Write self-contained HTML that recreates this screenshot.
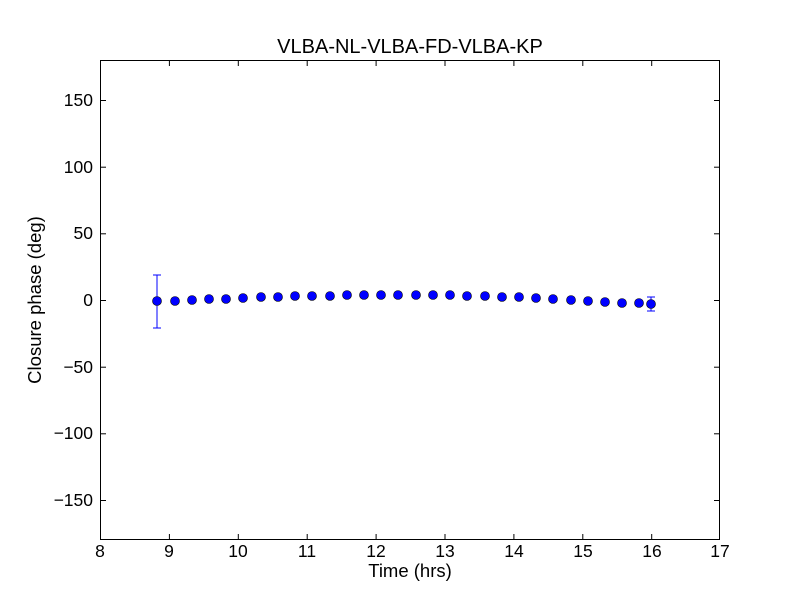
<!DOCTYPE html>
<html><head><style>
body{margin:0;background:#fff}
svg{display:block}
text{font-family:"Liberation Sans","DejaVu Sans",sans-serif;fill:#000}
</style></head><body>
<svg width="800" height="600" viewBox="0 0 800 600">
<rect width="800" height="600" fill="#fff"/>
<g stroke="#000" stroke-width="1">
<line x1="100.5" y1="540" x2="100.5" y2="534"/><line x1="100.5" y1="60" x2="100.5" y2="66"/>
<line x1="169.4" y1="540" x2="169.4" y2="534"/><line x1="169.4" y1="60" x2="169.4" y2="66"/>
<line x1="238.3" y1="540" x2="238.3" y2="534"/><line x1="238.3" y1="60" x2="238.3" y2="66"/>
<line x1="307.2" y1="540" x2="307.2" y2="534"/><line x1="307.2" y1="60" x2="307.2" y2="66"/>
<line x1="376.1" y1="540" x2="376.1" y2="534"/><line x1="376.1" y1="60" x2="376.1" y2="66"/>
<line x1="445" y1="540" x2="445" y2="534"/><line x1="445" y1="60" x2="445" y2="66"/>
<line x1="513.9" y1="540" x2="513.9" y2="534"/><line x1="513.9" y1="60" x2="513.9" y2="66"/>
<line x1="582.8" y1="540" x2="582.8" y2="534"/><line x1="582.8" y1="60" x2="582.8" y2="66"/>
<line x1="651.7" y1="540" x2="651.7" y2="534"/><line x1="651.7" y1="60" x2="651.7" y2="66"/>
<line x1="100" y1="100.5" x2="106" y2="100.5"/><line x1="720" y1="100.5" x2="714" y2="100.5"/>
<line x1="100" y1="167.2" x2="106" y2="167.2"/><line x1="720" y1="167.2" x2="714" y2="167.2"/>
<line x1="100" y1="233.8" x2="106" y2="233.8"/><line x1="720" y1="233.8" x2="714" y2="233.8"/>
<line x1="100" y1="300.5" x2="106" y2="300.5"/><line x1="720" y1="300.5" x2="714" y2="300.5"/>
<line x1="100" y1="367.2" x2="106" y2="367.2"/><line x1="720" y1="367.2" x2="714" y2="367.2"/>
<line x1="100" y1="433.8" x2="106" y2="433.8"/><line x1="720" y1="433.8" x2="714" y2="433.8"/>
<line x1="100" y1="500.5" x2="106" y2="500.5"/><line x1="720" y1="500.5" x2="714" y2="500.5"/>
</g>
<rect x="100.5" y="60.5" width="619" height="479" fill="none" stroke="#000"/>
<g stroke="#0000ff" stroke-width="1">
<line x1="157" y1="275" x2="157" y2="328"/><line x1="153" y1="275" x2="161" y2="275"/><line x1="153" y1="328" x2="161" y2="328"/>
<line x1="651" y1="297" x2="651" y2="311"/><line x1="647" y1="297" x2="655" y2="297"/><line x1="647" y1="311" x2="655" y2="311"/>
</g>
<g fill="#0000ff" stroke="#000" stroke-width="0.6">
<circle cx="157" cy="301" r="4.5"/><circle cx="175" cy="301" r="4.5"/><circle cx="192" cy="300" r="4.5"/>
<circle cx="209" cy="299" r="4.5"/><circle cx="226" cy="299" r="4.5"/><circle cx="243" cy="298" r="4.5"/>
<circle cx="261" cy="297" r="4.5"/><circle cx="278" cy="297" r="4.5"/><circle cx="295" cy="296" r="4.5"/>
<circle cx="312" cy="296" r="4.5"/><circle cx="330" cy="296" r="4.5"/><circle cx="347" cy="295" r="4.5"/>
<circle cx="364" cy="295" r="4.5"/><circle cx="381" cy="295" r="4.5"/><circle cx="398" cy="295" r="4.5"/>
<circle cx="416" cy="295" r="4.5"/><circle cx="433" cy="295" r="4.5"/><circle cx="450" cy="295" r="4.5"/>
<circle cx="467" cy="296" r="4.5"/><circle cx="485" cy="296" r="4.5"/><circle cx="502" cy="297" r="4.5"/>
<circle cx="519" cy="297" r="4.5"/><circle cx="536" cy="298" r="4.5"/><circle cx="553" cy="299" r="4.5"/>
<circle cx="571" cy="300" r="4.5"/><circle cx="588" cy="301" r="4.5"/><circle cx="605" cy="302" r="4.5"/>
<circle cx="622" cy="303" r="4.5"/><circle cx="639" cy="303" r="4.5"/><circle cx="651" cy="304" r="4.5"/>
</g>
<g font-size="17.5" text-anchor="middle">
<text x="100" y="557">8</text><text x="169" y="557">9</text><text x="238" y="557">10</text>
<text x="307" y="557">11</text><text x="376" y="557">12</text><text x="445" y="557">13</text>
<text x="514" y="557">14</text><text x="583" y="557">15</text><text x="652" y="557">16</text>
<text x="720" y="557">17</text>
</g>
<g font-size="17.5" text-anchor="end">
<text x="93" y="106">150</text><text x="93" y="173">100</text><text x="93" y="239">50</text>
<text x="93" y="306">0</text><text x="93" y="373">−50</text><text x="93" y="439">−100</text>
<text x="93" y="506">−150</text>
</g>
<text x="410" y="577" font-size="18.5" text-anchor="middle">Time (hrs)</text>
<text x="41" y="300" font-size="18.5" text-anchor="middle" transform="rotate(-90 41 300)">Closure phase (deg)</text>
<text x="410" y="53" font-size="20" text-anchor="middle">VLBA-NL-VLBA-FD-VLBA-KP</text>
</svg>
</body></html>
